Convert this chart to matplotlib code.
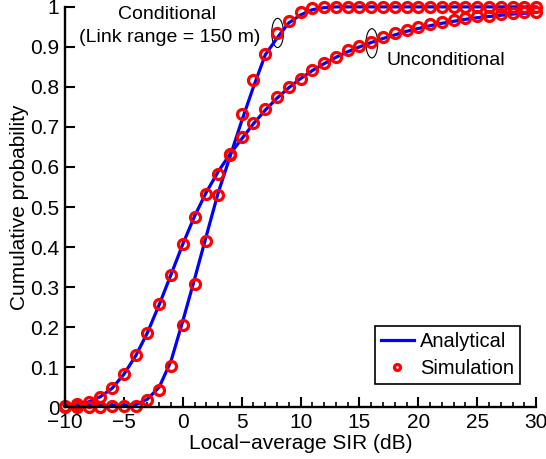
import matplotlib.pyplot as plt
from matplotlib.patches import Ellipse
from matplotlib.ticker import MultipleLocator

plt.rcParams['font.family'] = ['Liberation Sans', 'DejaVu Sans']

# SIR grid (dB)
sir = list(range(-10, 31))

# unconditional CDF
uncond_sim = [0.002, 0.007, 0.013, 0.025, 0.048, 0.083, 0.13, 0.186, 0.257, 0.33,
              0.407, 0.475, 0.533, 0.583, 0.632, 0.674, 0.711, 0.744, 0.774, 0.801,
              0.821, 0.843, 0.859, 0.876, 0.892, 0.903, 0.913, 0.924, 0.935, 0.943,
              0.949, 0.957, 0.962, 0.967, 0.971, 0.976, 0.978, 0.981, 0.984, 0.986,
              0.988]
uncond_ana = [0.002, 0.006, 0.013, 0.026, 0.047, 0.082, 0.128, 0.186, 0.256, 0.331,
              0.407, 0.477, 0.537, 0.588, 0.632, 0.67, 0.708, 0.742, 0.772, 0.798,
              0.821, 0.841, 0.858, 0.874, 0.888, 0.9, 0.911, 0.921, 0.93, 0.939,
              0.946, 0.953, 0.959, 0.964, 0.969, 0.973, 0.976, 0.979, 0.982, 0.984,
              0.986]

# conditional CDF (link range = 150 m)
cond_sim = [0.001, 0.001, 0.0, 0.0, 0.002, 0.002, 0.004, 0.017, 0.044, 0.104,
            0.204, 0.307, 0.414, 0.529, 0.63, 0.732, 0.817, 0.882, 0.935, 0.964,
            0.987, 0.997, 0.999, 1.0, 1.0, 1.0, 1.0, 1.0, 1.0, 1.0,
            1.0, 1.0, 1.0, 1.0, 1.0, 1.0, 1.0, 1.0, 1.0, 1.0,
            1.0]
cond_ana = [0.004, 0.004, 0.004, 0.004, 0.005, 0.005, 0.006, 0.02, 0.05, 0.115,
            0.215, 0.32, 0.428, 0.535, 0.625, 0.715, 0.8, 0.88, 0.922, 0.96,
            0.98, 0.993, 0.998, 1.0, 1.0, 1.0, 1.0, 1.0, 1.0, 1.0,
            1.0, 1.0, 1.0, 1.0, 1.0, 1.0, 1.0, 1.0, 1.0, 1.0,
            1.0]

fig = plt.figure(figsize=(5.46, 4.59), dpi=100)
ax = fig.add_axes([0.119, 0.113, 0.863, 0.872])

ax.plot(sir, cond_ana, color='#0000ff', lw=2.3, label='Analytical', clip_on=False)
ax.plot(sir, uncond_ana, color='#0000ff', lw=2.3, clip_on=False)
ax.plot(sir, cond_sim, 'o', mfc='none', mec='#ff0000', mew=2.3, ms=7.2,
        label='Simulation', clip_on=False)
ax.plot(sir, uncond_sim, 'o', mfc='none', mec='#ff0000', mew=2.3, ms=7.2, clip_on=False)

ax.set_xlim(-10, 30)
ax.set_ylim(0, 1)
ax.xaxis.set_major_locator(MultipleLocator(5))
ax.xaxis.set_minor_locator(MultipleLocator(1))
ax.set_yticks([0, 0.1, 0.2, 0.3, 0.4, 0.5, 0.6, 0.7, 0.8, 0.9, 1.0])
ax.set_yticklabels(['0', '0.1', '0.2', '0.3', '0.4', '0.5', '0.6', '0.7', '0.8', '0.9', '1'])

for s in ['top', 'right']:
    ax.spines[s].set_visible(False)
for s in ['left', 'bottom']:
    ax.spines[s].set_linewidth(1.7)
ax.tick_params(which='major', direction='in', length=7, width=1.5, labelsize=15, pad=4)
ax.tick_params(which='minor', direction='in', length=3.6, width=1.2)
ax.tick_params(axis='y', which='minor', left=False)

ax.set_xlabel('Local\u2212average SIR (dB)', fontsize=15, labelpad=2)
ax.set_ylabel('Cumulative probability', fontsize=15, labelpad=1)

# annotations
ax.text(-1.3, 0.98, 'Conditional', ha='center', va='center', fontsize=14)
ax.text(-1.1, 0.924, '(Link range = 150 m)', ha='center', va='center', fontsize=14)
ax.add_patch(Ellipse((8.05, 0.935), 1.0, 0.073, fill=False, lw=0.8, color='k'))
ax.add_patch(Ellipse((16.05, 0.909), 1.0, 0.073, fill=False, lw=0.8, color='k'))
ax.text(22.35, 0.865, 'Unconditional', ha='center', va='center', fontsize=14)

leg = ax.legend(loc='lower right', bbox_to_anchor=(0.966, 0.0575), borderaxespad=0,
                fontsize=14.5, fancybox=False, framealpha=1, edgecolor='k',
                handlelength=1.65, handletextpad=0.3, borderpad=0.3,
                labelspacing=0.42, markerscale=0.6)
leg.get_frame().set_linewidth(1.2)

fig.savefig('out.png', dpi=100)
